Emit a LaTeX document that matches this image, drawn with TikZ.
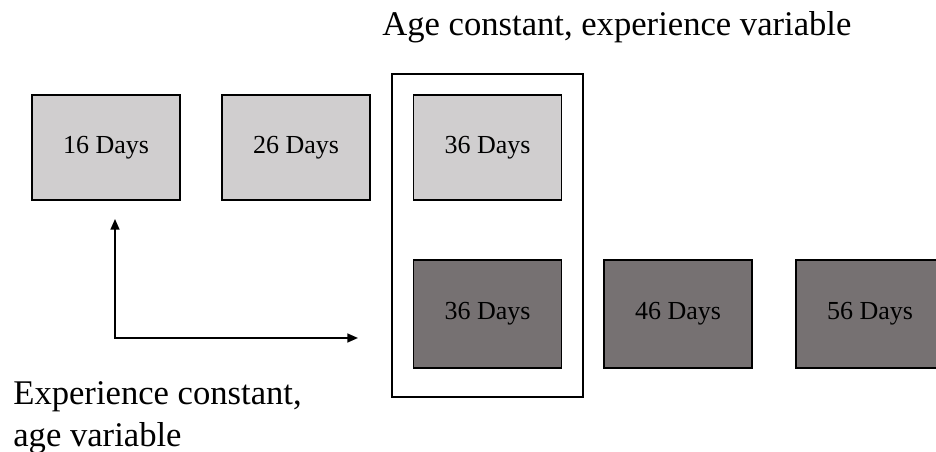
\documentclass[tikz,border=0pt]{standalone}
\usepackage{fontspec}
\setmainfont{Liberation Serif}
\usepackage{tikz}
\usetikzlibrary{positioning, calc, arrows.meta}
\usepackage{xcolor}
\definecolor{younggray}{HTML}{D0CECF}
\definecolor{oldgray}{HTML}{767172}

\begin{document}
\begin{tikzpicture}[
  day/.style={draw, line width=1pt, minimum width=2.96cm, minimum height=2.1cm, inner sep=0pt, font=\fontsize{14.8}{17}\selectfont},
  young/.style={day, fill=younggray},
  old/.style={day, fill=oldgray, minimum height=2.15cm},
  caption/.style={anchor=base west, inner sep=0pt, font=\fontsize{19.7}{26.6}\selectfont},
  >={Triangle[length=6pt, width=5pt]}
]
  \useasboundingbox (0, 0) rectangle (18.72, -9.04);

  % Constant age group (outer frame)
  \node[draw, line width=1pt, minimum width=3.82cm, minimum height=6.46cm] (frame) at (9.75, -4.71) {};

  % Top row
  \node[young] (d16) at (2.12, -2.95) {16 Days};
  \node[young] (d26) at (5.92, -2.95) {26 Days};
  \node[young] (d36a) at (9.75, -2.95) {36 Days};

  % Bottom row
  \node[old] (d36b) at (9.75, -6.28) {36 Days};
  \node[old] (d46) at (13.56, -6.28) {46 Days};
  \node[old] (d56) at (17.40, -6.28) {56 Days};

  % Captions
  \node[caption] (agecap) at (7.64, -0.72) {Age constant, experience variable};
  \node[caption] (expcap1) at (0.26, -8.10) {Experience constant,};
  \node[caption] (expcap2) at (0.26, -8.94) {age variable};

  % Axes arrow
  \coordinate (uptip) at (2.30, -4.38);
  \coordinate (righttip) at (7.16, -6.76);
  \draw[<->, line width=1pt] (uptip) |- (righttip);
\end{tikzpicture}
\end{document}
